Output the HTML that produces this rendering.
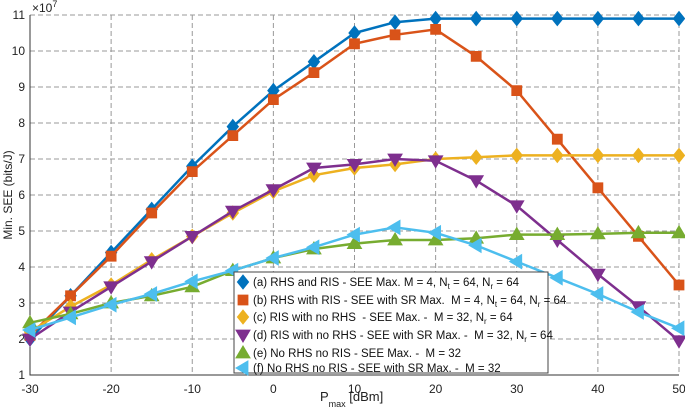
<!DOCTYPE html>
<html><head><meta charset="utf-8"><style>
body{margin:0;background:#fff}
svg{font-family:"Liberation Sans",sans-serif}
.lt{white-space:pre}
</style></head><body>
<svg id="c" width="685" height="410"></svg>
<script>
const xs=[-30,-25,-20,-15,-10,-5,0,5,10,15,20,25,30,35,40,45,50];
const sA=[2.0,3.2,4.4,5.6,6.8,7.9,8.9,9.7,10.5,10.8,10.9,10.9,10.9,10.9,10.9,10.9,10.9];
const sB=[2.1,3.2,4.3,5.5,6.65,7.65,8.65,9.4,10.2,10.45,10.6,9.85,8.9,7.55,6.2,4.85,3.5];
const sC=[2.2,2.9,3.5,4.2,4.85,5.5,6.1,6.55,6.75,6.85,7.0,7.05,7.1,7.1,7.1,7.1,7.1];
const sD=[2.0,2.75,3.45,4.15,4.85,5.55,6.15,6.75,6.85,7.0,6.95,6.4,5.7,4.75,3.8,2.9,1.95];
const sE=[2.45,2.7,3.0,3.2,3.45,3.9,4.25,4.5,4.65,4.75,4.75,4.8,4.9,4.9,4.92,4.95,4.95];
const sF=[2.25,2.6,2.95,3.25,3.6,3.9,4.25,4.55,4.9,5.1,4.95,4.6,4.15,3.7,3.25,2.75,2.3];
const xTicks=[-30,-20,-10,0,10,20,30,40,50];
const yTicks=[1,2,3,4,5,6,7,8,9,10,11];
const legendLabels=[
 '(a) RHS and RIS - SEE Max. M = 4, N<tspan dy="3" font-size="8">t</tspan><tspan dy="-3"> = 64, N</tspan><tspan dy="3" font-size="8">r</tspan><tspan dy="-3"> = 64</tspan>',
 '(b) RHS with RIS - SEE with SR Max.  M = 4, N<tspan dy="3" font-size="8">t</tspan><tspan dy="-3"> = 64, N</tspan><tspan dy="3" font-size="8">r</tspan><tspan dy="-3"> = 64</tspan>',
 '(c) RIS with no RHS  - SEE Max. -  M = 32, N<tspan dy="3" font-size="8">r</tspan><tspan dy="-3"> = 64</tspan>',
 '(d) RIS with no RHS - SEE with SR Max. -  M = 32, N<tspan dy="3" font-size="8">r</tspan><tspan dy="-3"> = 64</tspan>',
 '(e) No RHS no RIS - SEE Max. -  M = 32',
 '(f) No RHS no RIS - SEE with SR Max. -  M = 32'];
const series=[sA,sB,sC,sD,sE,sF];
const colors=['#0072BD','#D95319','#EDB120','#7E2F8E','#77AC30','#4DBEEE'];
const marks=['diamond','square','diamond','tridown','triup','trileft'];
const names=['series-a','series-b','series-c','series-d','series-e','series-f'];
const L=30,R=679,T=15,B=375;
const X=v=>L+(v+30)/80*(R-L);
const Y=v=>B-(v-1)/10*(B-T);
const svg=document.getElementById('c');
const NS='http://www.w3.org/2000/svg';
function el(t,a,p){const e=document.createElementNS(NS,t);for(const k in a)e.setAttribute(k,a[k]);(p||svg).appendChild(e);return e;}
xTicks.forEach(v=>{const g=el('line',{x1:X(v),x2:X(v),y1:T,y2:B,stroke:'#999','stroke-dasharray':'5,3','stroke-width':1});


const t=el('text',{x:X(v),y:B+18,'text-anchor':'middle','font-size':12,fill:'#222'});t.textContent=v;

});
yTicks.forEach(v=>{const g=el('line',{x1:L,x2:R,y1:Y(v),y2:Y(v),stroke:'#999','stroke-dasharray':'5,3','stroke-width':1});


const t=el('text',{x:L-5,y:Y(v)+4,'text-anchor':'end','font-size':12,fill:'#222'});t.textContent=v;

});
const ax=el('path',{d:`M${L},${T}V${B}H${R}`,fill:'none',stroke:'#333','stroke-width':1});


function marker(type,x,y,c,s,p){
 let d;
 if(type==='diamond')d=`M${x},${y-s}L${x+s*0.8},${y}L${x},${y+s}L${x-s*0.8},${y}Z`;
 else if(type==='square')d=`M${x-s*0.7},${y-s*0.7}h${s*1.4}v${s*1.4}h${-s*1.4}Z`;
 else if(type==='tridown')d=`M${x-s},${y-s*0.7}H${x+s}L${x},${y+s}Z`;
 else if(type==='triup')d=`M${x-s},${y+s*0.7}H${x+s}L${x},${y-s}Z`;
 else d=`M${x+s*0.7},${y-s}V${y+s}L${x-s},${y}Z`;
 return el('path',{d,fill:c,stroke:c,'stroke-width':1},p);
}
series.forEach((s,i)=>{
 const g=el('g',{});
 
 
 const pts=s.map((v,j)=>X(xs[j])+','+Y(v)).join(' ');
 const pl=el('polyline',{points:pts,fill:'none',stroke:colors[i],'stroke-width':2.5},g);
 
 
 s.forEach((v,j)=>{const m=marker(marks[i],X(xs[j]),Y(v),colors[i],7,g);
 
 });
});
const lg=el('g',{});


el('rect',{x:234,y:272,width:314,height:101,fill:'#fff',stroke:'#444','stroke-width':1},lg);
const rowY=[282,300,317,335,353,368];
legendLabels.forEach((lab,i)=>{
 const m=marker(marks[i],243,rowY[i],colors[i],7,lg);
 
 
 const t=el('text',{x:253,y:rowY[i]+4,'font-size':11.5,fill:'#111','class':'lt'},lg);
 t.innerHTML=lab;
 
 
});
</script>
<svg style="position:absolute;left:0;top:0" width="685" height="410">
<text x="32" y="12" font-size="12" fill="#222">×10<tspan dy="-5" font-size="9">7</tspan></text>
<text transform="translate(12,195) rotate(-90)" text-anchor="middle" font-size="12" fill="#222">Min. SEE (bits/J)</text>
<text x="320" y="401" font-size="13" fill="#222">P<tspan dy="6" font-size="9">max</tspan><tspan dy="-6"> [dBm]</tspan></text>
</svg>
</body></html>
